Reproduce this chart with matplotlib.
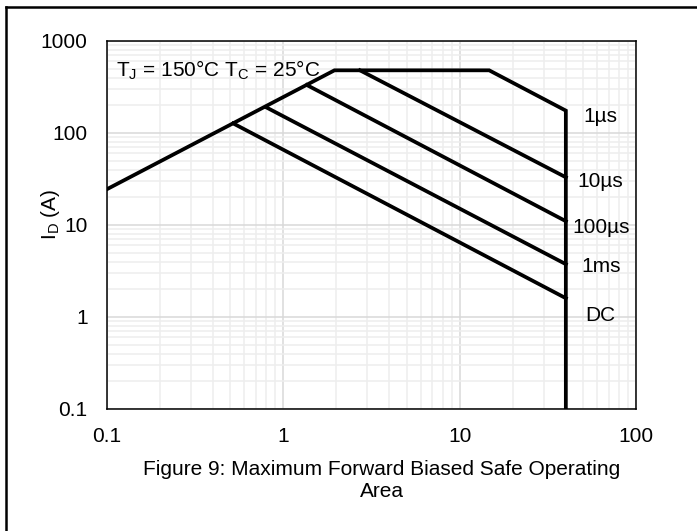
import numpy as np
import matplotlib
matplotlib.use('Agg')
import matplotlib.pyplot as plt
from matplotlib.lines import Line2D

plt.rcParams['font.family'] = ['Liberation Sans', 'DejaVu Sans']
plt.rcParams['mathtext.fontset'] = 'custom'
plt.rcParams['mathtext.rm'] = 'Liberation Sans'

# safe operating area boundary: Rds(on) limit, current limit, 1us pulse, Vds limit
envelope_v = [0.1, 1.95, 14.7, 40, 40]
envelope_i = [24.5, 480, 480, 175, 0.1]

# pulse width limit lines (start, end at 40 V)
pulse_names = ['10µs', '100µs', '1ms', 'DC']
pulse_v = [[2.72, 40], [1.36, 40], [0.80, 40], [0.52, 40]]
pulse_i = [[480, 33], [332, 11], [190, 3.75], [127, 1.6]]

# curve labels on the right
label_names = ['1µs', '10µs', '100µs', '1ms', 'DC']
label_v = [63, 63, 63, 63, 63]
label_i = [150, 29.6, 9.3, 3.5, 1.05]

fs = 15

fig = plt.figure(figsize=(6.97, 5.31), dpi=100)
ax = fig.add_axes([0.1535, 0.2298, 0.759, 0.693])

ax.plot(envelope_v, envelope_i, color='black', lw=2.7, solid_joinstyle='miter')
for v, i in zip(pulse_v, pulse_i):
    ax.plot(v, i, color='black', lw=2.7)

for name, v, i in zip(label_names, label_v, label_i):
    ax.text(v, i, name, ha='center', va='center', fontsize=fs)

ax.text(0.112, 480, r'T$_\mathregular{J}$ = 150°C T$_\mathregular{C}$ = 25°C',
        ha='left', va='center', fontsize=fs)

ax.set_xscale('log')
ax.set_yscale('log')
ax.set_xlim(0.1, 100)
ax.set_ylim(0.1, 1000)
ax.set_xticks([0.1, 1, 10, 100])
ax.set_xticklabels(['0.1', '1', '10', '100'])
ax.set_yticks([0.1, 1, 10, 100, 1000])
ax.set_yticklabels(['0.1', '1', '10', '100', '1000'])
ax.tick_params(which='both', length=0, labelsize=fs)
ax.tick_params(axis='x', pad=13)
ax.tick_params(axis='y', pad=14)

ax.grid(which='major', color='#d9d9d9', lw=1.1)
ax.grid(which='minor', color='#eeeeee', lw=1.1)
ax.set_axisbelow(True)
for s in ax.spines.values():
    s.set_color('black')
    s.set_linewidth(1.1)

ax.set_ylabel(r'I$_\mathregular{D}$ (A)', fontsize=fs)
ax.yaxis.set_label_coords(-0.085, 0.53)

fig.text(0.548, 0.095, 'Figure 9: Maximum Forward Biased Safe Operating\nArea',
         ha='center', va='center', fontsize=fs, linespacing=1.25)

# cell border lines
fig.add_artist(Line2D([0.0086, 1.0], [0.987, 0.987], color='black', lw=1.8))
fig.add_artist(Line2D([0.0086, 0.0086], [0.0, 0.987], color='black', lw=1.8))

fig.savefig('out.png', dpi=100)
